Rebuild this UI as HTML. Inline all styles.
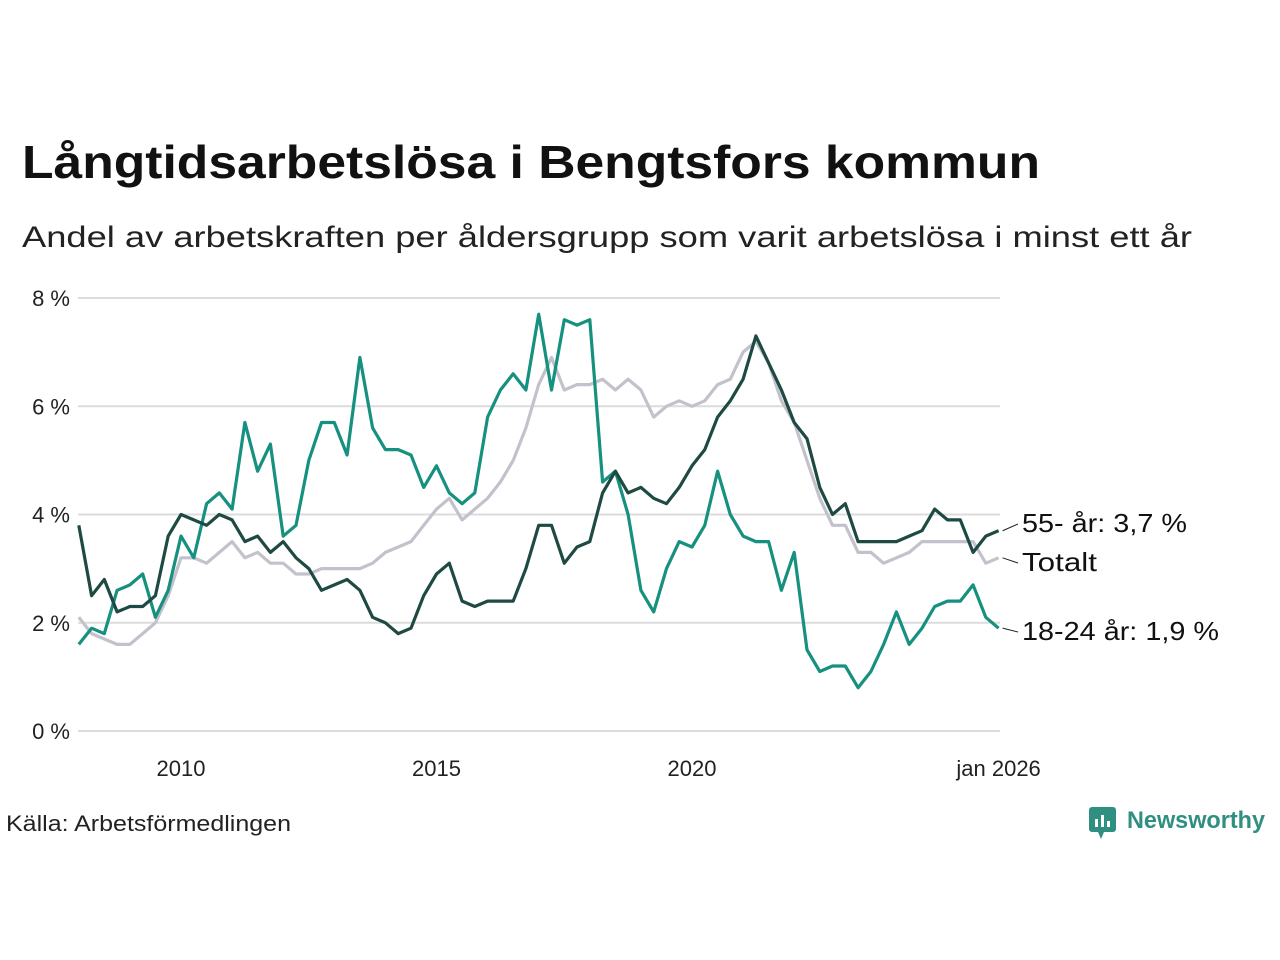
<!DOCTYPE html>
<html><head><meta charset="utf-8"><style>
body{margin:0;background:#fff;font-family:"Liberation Sans",sans-serif;}
#wrap{position:relative;width:1280px;height:960px;overflow:hidden;}
</style></head><body>
<div id="wrap">
<svg id="chart" width="1280" height="960">
<text x="22" y="178" font-size="46" font-weight="bold" fill="#111" textLength="1018" lengthAdjust="spacingAndGlyphs">Långtidsarbetslösa i Bengtsfors kommun</text>
<text x="22" y="247" font-size="30" fill="#222" textLength="1170" lengthAdjust="spacingAndGlyphs">Andel av arbetskraften per åldersgrupp som varit arbetslösa i minst ett år</text>
<g id="grid"></g><g id="series"></g><g id="labels"></g>
<text x="6" y="831" font-size="22" fill="#222" textLength="285" lengthAdjust="spacingAndGlyphs">Källa: Arbetsförmedlingen</text>
<g>
<rect x="1089" y="807" width="27" height="25" rx="3" fill="#2f8f80"/>
<polygon points="1098,832 1104,832 1101,839" fill="#2f8f80"/>
<rect x="1095" y="819" width="3" height="8" fill="#fff"/><rect x="1101" y="815" width="3" height="12" fill="#fff"/><rect x="1107" y="821" width="3" height="6" fill="#fff"/>
<text x="1127" y="828" font-size="24" font-weight="bold" fill="#2f8f80" textLength="138" lengthAdjust="spacingAndGlyphs">Newsworthy</text>
</g>
</svg>
</div>
<script>
const yTicks=[0,2,4,6,8];
const xTickYears=[2010,2015,2020,2026];
const xTickLabels=["2010","2015","2020","jan 2026"];
const startYear=2008;
const step=0.25;
const totalt=[2.1,1.8,1.7,1.6,1.6,1.8,2.0,2.5,3.2,3.2,3.1,3.3,3.5,3.2,3.3,3.1,3.1,2.9,2.9,3.0,3.0,3.0,3.0,3.1,3.3,3.4,3.5,3.8,4.1,4.3,3.9,4.1,4.3,4.6,5.0,5.6,6.4,6.9,6.3,6.4,6.4,6.5,6.3,6.5,6.3,5.8,6.0,6.1,6.0,6.1,6.4,6.5,7.0,7.2,6.8,6.1,5.7,5.0,4.3,3.8,3.8,3.3,3.3,3.1,3.2,3.3,3.5,3.5,3.5,3.5,3.5,3.1,3.2];
const age55=[3.8,2.5,2.8,2.2,2.3,2.3,2.5,3.6,4.0,3.9,3.8,4.0,3.9,3.5,3.6,3.3,3.5,3.2,3.0,2.6,2.7,2.8,2.6,2.1,2.0,1.8,1.9,2.5,2.9,3.1,2.4,2.3,2.4,2.4,2.4,3.0,3.8,3.8,3.1,3.4,3.5,4.4,4.8,4.4,4.5,4.3,4.2,4.5,4.9,5.2,5.8,6.1,6.5,7.3,6.8,6.3,5.7,5.4,4.5,4.0,4.2,3.5,3.5,3.5,3.5,3.6,3.7,4.1,3.9,3.9,3.3,3.6,3.7];
const age1824=[1.6,1.9,1.8,2.6,2.7,2.9,2.1,2.6,3.6,3.2,4.2,4.4,4.1,5.7,4.8,5.3,3.6,3.8,5.0,5.7,5.7,5.1,6.9,5.6,5.2,5.2,5.1,4.5,4.9,4.4,4.2,4.4,5.8,6.3,6.6,6.3,7.7,6.3,7.6,7.5,7.6,4.6,4.8,4.0,2.6,2.2,3.0,3.5,3.4,3.8,4.8,4.0,3.6,3.5,3.5,2.6,3.3,1.5,1.1,1.2,1.2,0.8,1.1,1.6,2.2,1.6,1.9,2.3,2.4,2.4,2.7,2.1,1.9];
const seriesNames=["Totalt","55- år","18-24 år"];

const NS="http://www.w3.org/2000/svg";
const x=t=>181+(t-2010)*51.1;
const y=v=>731-v*54.125;
function mk(tag,attrs,parent){const e=document.createElementNS(NS,tag);for(const k in attrs)e.setAttribute(k,attrs[k]);parent.appendChild(e);return e;}
const grid=document.getElementById('grid'),ser=document.getElementById('series'),lab=document.getElementById('labels');
yTicks.forEach(v=>{
  const l=mk('line',{x1:78,x2:1000,y1:y(v),y2:y(v),stroke:'#dcdcdc','stroke-width':2},grid);
  
  
  const t=mk('text',{x:70,y:y(v)+8,'font-size':22,'text-anchor':'end',fill:'#222'},grid);
  t.textContent=v+' %';
  
  
});
xTickYears.forEach((yr,i)=>{
  const t=mk('text',{x:x(yr),y:776,'font-size':22,'text-anchor':'middle',fill:'#222'},grid);
  t.textContent=xTickLabels[i];
  
  
});
function draw(arr,color,name){
  const d=arr.map((v,i)=>(i?'L':'M')+x(startYear+i*step).toFixed(1)+','+y(v).toFixed(1)).join('');
  const p=mk('path',{d:d,fill:'none',stroke:color,'stroke-width':3.2,'stroke-linejoin':'round'},ser);
  
  
}
draw(totalt,'#c3c2cc','line-totalt');
draw(age1824,'#16907f','line-18-24');
draw(age55,'#1e4a43','line-55');
function label(arr,txt,ly,name,w){
  const lx=x(startYear+(arr.length-1)*step);const vy=y(arr[arr.length-1]);
  const l=mk('line',{x1:lx+4,y1:vy,x2:1018,y2:ly-8,stroke:'#222','stroke-width':1},lab);
  
  
  const t=mk('text',{x:1022,y:ly,'font-size':26,fill:'#111',textLength:w,lengthAdjust:'spacingAndGlyphs'},lab);
  t.textContent=txt;
  
  
}
label(age55,seriesNames[1]+': '+String(age55[age55.length-1]).replace('.',',')+' %',532,'label-55',165);
label(totalt,seriesNames[0],571,'label-totalt',75);
label(age1824,seriesNames[2]+': '+String(age1824[age1824.length-1]).replace('.',',')+' %',640,'label-18-24',197);
</script>
</body></html>
